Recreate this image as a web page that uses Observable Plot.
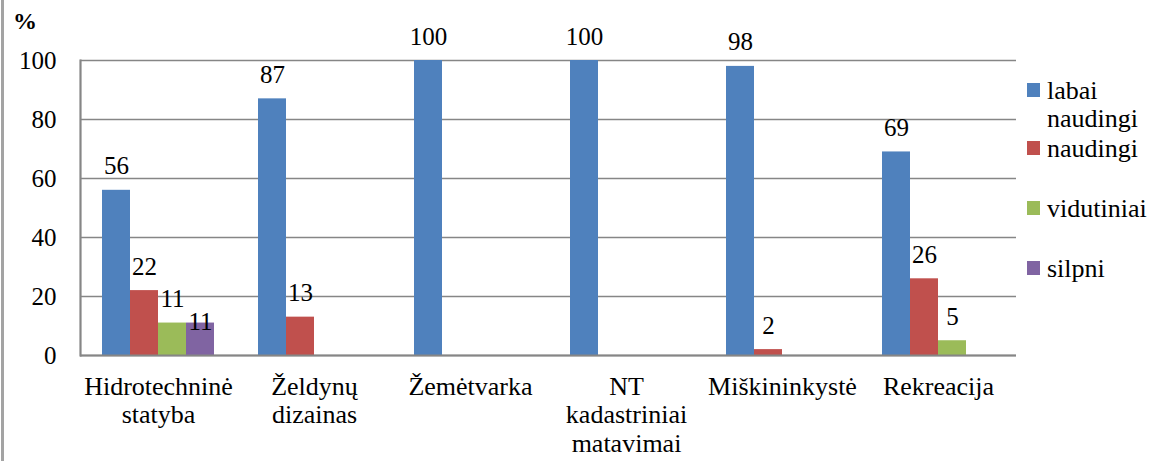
<!DOCTYPE html>
<html>
<head>
<meta charset="utf-8">
<script src="https://cdn.jsdelivr.net/npm/d3@7"></script>
<script src="https://cdn.jsdelivr.net/npm/@observablehq/plot@0.6"></script>
<style>
  html, body { margin: 0; padding: 0; background: #fff; }
  #wrap { position: relative; width: 1165px; height: 461px; font-family: 'Liberation Serif', 'Times New Roman', serif; color: #000; overflow: hidden; }
  #border { position: absolute; left: 1px; top: 0; width: 3px; height: 461px; background: #a3a3a3; }
  #unit { position: absolute; left: 13px; top: 9px; font-size: 24px; line-height: 24px; font-weight: bold; }
  .leg { position: absolute; left: 1027px; font-size: 26px; line-height: 28px; }
  .leg .sw { position: absolute; left: 0; width: 13px; height: 14px; }
  .leg .tx { position: absolute; left: 20px; width: 112px; white-space: normal; }
</style>
</head>
<body>
<div id="wrap">
  <div id="border"></div>
  <div id="unit" style="font-family:'Liberation Serif'">%</div>
</div>
<script>
// ---- data ----
const categories = ["Hidrotechninė statyba", "Želdynų dizainas", "Žemėtvarka", "NT kadastriniai matavimai", "Miškininkystė", "Rekreacija"];
const categoryLabels = ["Hidrotechninė\nstatyba", "Želdynų\ndizainas", "Žemėtvarka", "NT\nkadastriniai\nmatavimai", "Miškininkystė", "Rekreacija"];
const seriesNames = ["labai naudingi", "naudingi", "vidutiniai", "silpni"];
const seriesColors = ["#4F81BD", "#C0504D", "#9BBB59", "#8064A2"];
const labaiNaudingi = [56, 87, 100, 100, 98, 69];
const naudingi = [22, 13, null, null, 2, 26];
const vidutiniai = [11, null, null, null, null, 5];
const silpni = [11, null, null, null, null, null];
const yTicks = [0, 20, 40, 60, 80, 100];

// ---- table ----
const seriesValues = [labaiNaudingi, naudingi, vidutiniai, silpni];
const rows = [];
categories.forEach((c, i) => {
  seriesNames.forEach((s, j) => {
    const v = seriesValues[j][i];
    if (v != null) rows.push({cat: c, series: s, value: v});
  });
});
const labelOf = new Map(categories.map((c, i) => [c, categoryLabels[i]]));

const axisColor = "#868686";
const serifFont = "'Liberation Serif'";

const chart = Plot.plot({
  width: 1165,
  height: 461,
  marginLeft: 79,
  marginRight: 149,
  marginTop: 60,
  marginBottom: 106,
  style: {fontFamily: serifFont, fontSize: "25px", color: "#000", background: "transparent"},
  fx: {domain: categories, padding: 0, axis: null},
  x: {domain: seriesNames, paddingInner: 0, paddingOuter: 0.72, axis: null},
  y: {domain: [0, 100], axis: null},
  color: {domain: seriesNames, range: seriesColors},
  marks: [
    Plot.gridY(yTicks, {stroke: axisColor, strokeOpacity: 1, strokeWidth: 1.3}),
    Plot.barY(rows, {fx: "cat", x: "series", y: "value", fill: "series"}),
    Plot.ruleY([0], {stroke: axisColor, strokeWidth: 2.2}),
    Plot.frame({anchor: "left", facetAnchor: "left", stroke: axisColor, strokeWidth: 2.2}),
    Plot.axisY(yTicks, {tickSize: 0, tickPadding: 24, fontSize: 25, fontFamily: serifFont, label: null}),
    Plot.axisFx({anchor: "bottom", tickSize: 0, tickPadding: 19, fontSize: 26, fontFamily: serifFont, lineHeight: 1.1, label: null, tickFormat: (d) => labelOf.get(d)}),
    Plot.text(rows.filter((d) => d.series !== "silpni"), {fx: "cat", x: "series", y: "value", text: (d) => String(d.value), dy: -24, fontSize: 25, fontFamily: serifFont, fill: "#000"}),
    Plot.text(rows.filter((d) => d.series === "silpni"), {fx: "cat", x: "series", y: "value", text: (d) => String(d.value), dy: -1, fontSize: 25, fontFamily: serifFont, fill: "#000"})
  ]
});

// force the serif font on every text element
chart.querySelectorAll("text, tspan").forEach((el) => { el.style.fontFamily = serifFont; });

const wrap = document.getElementById("wrap");
wrap.insertBefore(chart, wrap.firstChild);
chart.style.position = "absolute";
chart.style.left = "0";
chart.style.top = "0";

// ---- legend (HTML, right side) ----
const legendTops = [77, 135, 195, 255];
seriesNames.forEach((s, i) => {
  const item = document.createElement("div");
  item.className = "leg";
  item.style.top = legendTops[i] + "px";
  item.style.fontFamily = serifFont;
  const sw = document.createElement("div");
  sw.className = "sw";
  sw.style.background = seriesColors[i];
  sw.style.top = "6px";
  const tx = document.createElement("div");
  tx.className = "tx";
  tx.style.fontFamily = serifFont;
  tx.textContent = s;
  item.appendChild(sw);
  item.appendChild(tx);
  wrap.appendChild(item);
});
</script>
</body>
</html>
